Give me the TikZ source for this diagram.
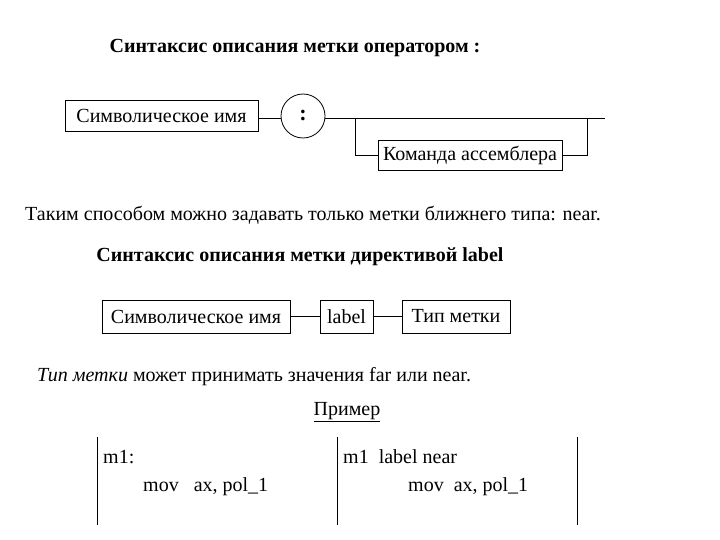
\documentclass[tikz,border=0pt]{standalone}
\usepackage{fontspec}
\setmainfont{Liberation Serif}
\begin{document}
\begin{tikzpicture}[x=1pt,y=-1pt,
  bx/.style={draw,line width=0.8pt,inner sep=0pt,minimum height=31pt,font=\fontsize{20}{22}\selectfont},
  txt/.style={inner sep=0pt,anchor=west,font=\fontsize{20}{22}\selectfont},
  ln/.style={line width=0.8pt}]
\useasboundingbox (0,0) rectangle (720,540);
\node[inner sep=0pt,font=\fontsize{20}{22}\selectfont\bfseries] (t1) at (295,48) {Синтаксис описания метки оператором :};
\node[bx,minimum width=193pt] (a1) at (161.5,115.5) {Символическое имя};
\node[draw,circle,ln,minimum size=44pt,inner sep=0pt,font=\fontsize{22}{22}\selectfont\bfseries] (c1) at (303,116) {:};
\node[bx,minimum width=184pt,minimum height=30pt] (a2) at (470,155) {Команда ассемблера};
\coordinate (e1) at (605,118);
\coordinate (b1) at (355,118);
\coordinate (b2) at (587,118);
\draw[ln] (a1.east |- 0,118) -- (c1.west |- 0,118);
\draw[ln] (c1.east |- 0,118) -- (e1);
\draw[ln] (b1) |- (a2.west);
\draw[ln] (a2.east) -| (b2);
\node[txt] (p1) at (25,215) {Таким способом можно задавать только метки ближнего типа: near.};
\node[inner sep=0pt,font=\fontsize{20}{22}\selectfont\bfseries] (t2) at (300,257) {Синтаксис описания метки директивой label};
\node[bx,minimum width=188pt,minimum height=33pt] (d1) at (196,316.5) {Символическое имя};
\node[bx,minimum width=53pt,minimum height=33pt] (d2) at (346.5,316.5) {label};
\node[bx,minimum width=108pt,minimum height=33pt] (d3) at (456,316.5) {Тип метки};
\draw[ln] (d1.east) -- (d2.west);
\draw[ln] (d2.east) -- (d3.west);
\node[txt] (p2) at (37,377) {\itshape Тип метки\upshape\ может принимать значения far или near.};
\node[inner sep=0pt,font=\fontsize{20}{22}\selectfont] (ex) at (347,412) {\underline{Пример}};
\coordinate (v1) at (97,437); \coordinate (v1b) at (97,525);
\coordinate (v2) at (337,437); \coordinate (v2b) at (337,525);
\coordinate (v3) at (577,437); \coordinate (v3b) at (577,525);
\draw[ln] (v1) -- (v1b); \draw[ln] (v2) -- (v2b); \draw[ln] (v3) -- (v3b);
\node[txt] (m1) at (103,457) {m1:};
\node[txt] (m2) at (143,487) {mov\ \ \ ax, pol\_1};
\node[txt] (m3) at (343,457) {m1\ \ label near};
\node[txt] (m4) at (408,487) {mov\ \ ax, pol\_1};
\end{tikzpicture}
\end{document}
